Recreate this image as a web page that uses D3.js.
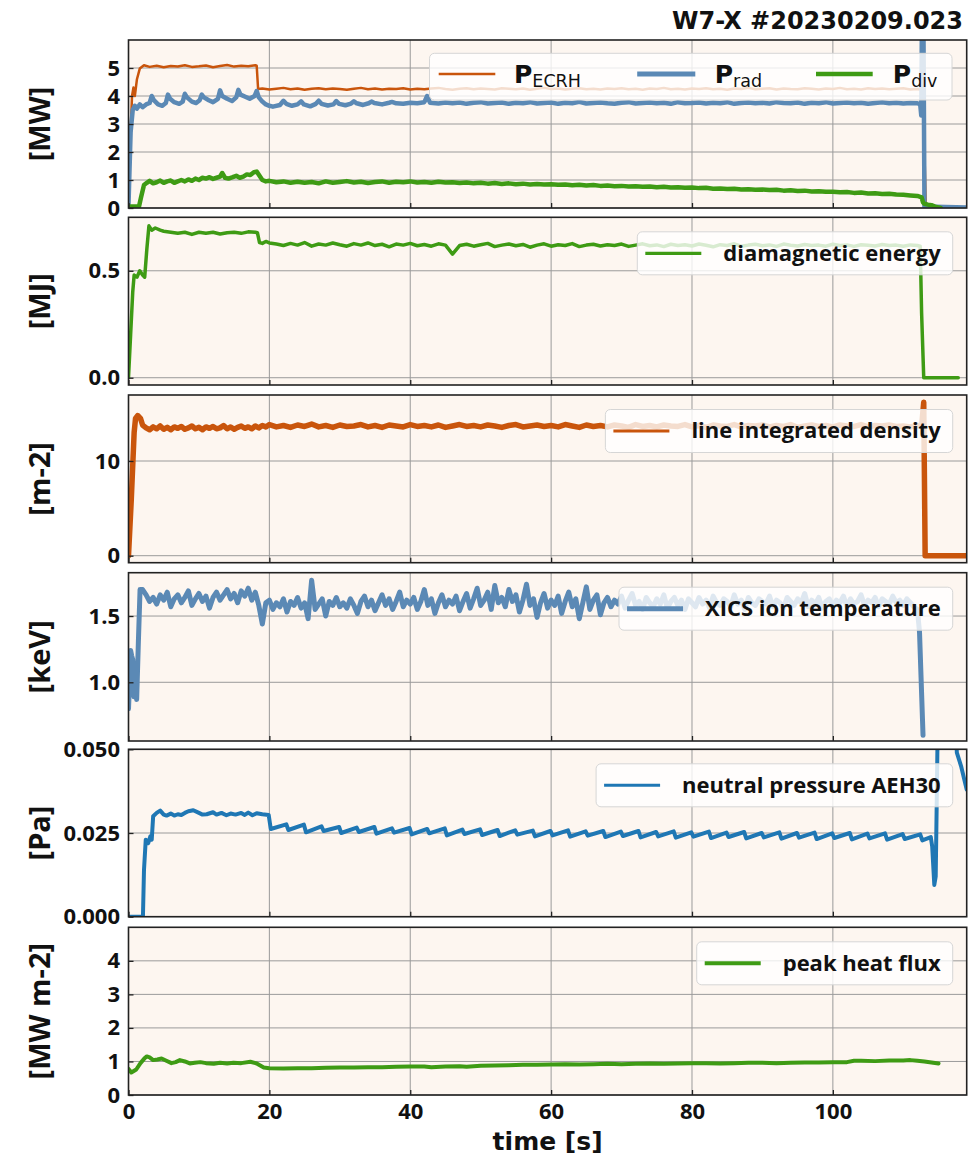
<!DOCTYPE html>
<html>
<head>
<meta charset="utf-8">
<script src="https://cdn.jsdelivr.net/npm/d3@7/dist/d3.min.js"></script>
<style>
html,body{margin:0;padding:0;background:#fff;}
svg text{font-family:"Open Sans",sans-serif;font-weight:700;fill:#111;}
</style>
</head>
<body>
<svg id="chart" width="979" height="1156"></svg>
<script>
// ---------------- DATA ----------------
const title = "W7-X #20230209.023";
const xDomain = [0, 119];
const xTickVals = [0, 20, 40, 60, 80, 100];
const xTickLabels = ["0", "20", "40", "60", "80", "100"];
const xLabel = "time [s]";

const yTicks1 = [0, 1, 2, 3, 4, 5];           const yLabels1 = ["0","1","2","3","4","5"];
const yTicks2 = [0, 0.5];                     const yLabels2 = ["0.0","0.5"];
const yTicks3 = [0, 10];                      const yLabels3 = ["0","10"];
const yTicks4 = [1.0, 1.5];                   const yLabels4 = ["1.0","1.5"];
const yTicks5 = [0, 0.025, 0.05];             const yLabels5 = ["0.000","0.025","0.050"];
const yTicks6 = [0, 1, 2, 3, 4];              const yLabels6 = ["0","1","2","3","4"];

const unitLabels = ["[MW]", "[MJ]", "[m-2]", "[keV]", "[Pa]", "[MW m-2]"];
const legendNames = ["diamagnetic energy", "line integrated density", "XICS ion temperature", "neutral pressure AEH30", "peak heat flux"];

// shared 1-s time grid
const tSec = [20,21,22,23,24,25,26,27,28,29,30,31,32,33,34,35,36,37,38,39,40,41,42,43,44,45,46,47,48,49,50,51,52,53,54,55,56,57,58,59,60,61,62,63,64,65,66,67,68,69,70,71,72,73,74,75,76,77,78,79,80,81,82,83,84,85,86,87,88,89,90,91,92,93,94,95,96,97,98,99,100,101,102,103,104,105,106,107,108,109,110,111,112];
// shared 0.5-s time grid
const tHalf = [2,2.5,3,3.5,4,4.5,5,5.5,6,6.5,7,7.5,8,8.5,9,9.5,10,10.5,11,11.5,
12,12.5,13,13.5,14,14.5,15,15.5,16,16.5,17,17.5,18,18.5,19,19.5,20,20.5,21,21.5,
22,22.5,23,23.5,24,24.5,25,25.5,26,26.5,27,27.5,28,28.5,29,29.5,30,30.5,31,31.5,
32,32.5,33,33.5,34,34.5,35,35.5,36,36.5,37,37.5,38,38.5,39,39.5,40,40.5,41,41.5,
42,42.5,43,43.5,44,44.5,45,45.5,46,46.5,47,47.5,48,48.5,49,49.5,50,50.5,51,51.5,
52,52.5,53,53.5,54,54.5,55,55.5,56,56.5,57,57.5,58,58.5,59,59.5,60,60.5,61,61.5,
62,62.5,63,63.5,64,64.5,65,65.5,66,66.5,67,67.5,68,68.5,69,69.5,70,70.5,71,71.5,
72,72.5,73,73.5,74,74.5,75,75.5,76,76.5,77,77.5,78,78.5,79,79.5,80,80.5,81,81.5,
82,82.5,83,83.5,84,84.5,85,85.5,86,86.5,87,87.5,88,88.5,89,89.5,90,90.5,91,91.5,
92,92.5,93,93.5,94,94.5,95,95.5,96,96.5,97,97.5,98,98.5,99,99.5,100,100.5,101,101.5,
102,102.5,103,103.5,104,104.5,105,105.5,106,106.5,107,107.5,108,108.5,109,109.5,110,110.5,111,111.5,
112];

// P_ECRH [MW]
const ecrhRampT = [0,0.2,0.5,0.7,0.9,1.2,1.6,2.2,3,4,5,6,7,8,9,10,11,12,13,14,15,16,17,18,18.2,18.4,19];
const ecrhRampV = [0,2.0,4.0,4.3,4.0,4.6,4.98,5.1,5.04,5.08,5.03,5.07,5.05,5.1,5.04,5.06,5.09,5.03,5.07,5.11,5.05,5.08,5.06,5.1,5.08,4.25,4.27];
const ecrhFlatV = [4.23,4.26,4.29,4.24,4.27,4.22,4.26,4.28,4.24,
4.27,4.25,4.22,4.26,4.29,4.24,4.27,4.23,4.26,4.25,
4.28,4.23,4.26,4.24,4.27,4.29,4.25,4.22,4.26,4.28,
4.24,4.27,4.25,4.23,4.28,4.26,4.24,4.27,4.22,4.26,
4.29,4.25,4.27,4.23,4.26,4.28,4.24,4.26,4.23,4.27,
4.25,4.28,4.24,4.26,4.22,4.27,4.25,4.29,4.24,4.26,
4.23,4.27,4.25,4.28,4.24,4.26,4.22,4.27,4.25,4.29,
4.24,4.26,4.28,4.23,4.27,4.25,4.24,4.28,4.26,4.23,
4.27,4.25,4.29,4.24,4.26,4.23,4.28,4.25,4.27,4.24,
4.26,4.28,4.23,4.25];
const ecrhEndT = [112.8,113.0,113.2,116];
const ecrhEndV = [4.2,2.0,0,0];

// P_rad [MW]
const radRampT = [0,0.3,0.6,0.9,1.2,1.6,2.0,2.5,3.0,3.3,3.6,4.2,4.8,5.3,5.6,5.9,6.5,7.2,7.7,8.0,8.3,9.0,9.6,10.1,10.4,10.7,11.4,12.0,12.7,13.0,13.3,14.0,14.7,15.3,15.6,15.9,16.5,17.2,17.9,18.2,18.5,19.0,19.5,20.0,20.5,21.5,22.0,22.4,23.2,24.0,24.5,24.9,25.8,26.6,27.0,27.4,28.3,29.1,29.5,29.9,30.8,31.6,32.0,32.4,33.3,34.1,34.5,34.9,36,37,37.4,38,39,40,41,42,42.4,42.8,44,45];
const radRampV = [0.1,2.7,3.5,3.65,3.55,3.7,3.6,3.7,3.75,4.0,3.85,3.7,3.65,3.75,4.05,3.9,3.78,3.72,3.8,4.08,3.95,3.8,3.75,3.85,4.05,3.95,3.85,3.78,3.9,4.2,4.0,3.9,3.82,3.95,4.22,4.05,3.98,3.9,4.0,4.18,3.95,3.8,3.7,3.65,3.62,3.68,3.83,3.72,3.65,3.7,3.81,3.7,3.63,3.72,3.83,3.72,3.66,3.7,3.82,3.72,3.67,3.73,3.81,3.74,3.68,3.74,3.8,3.75,3.7,3.76,3.79,3.74,3.72,3.76,3.74,3.78,4.0,3.76,3.73,3.77];
const radFlatV = [3.74,3.77,3.72,3.76,3.78,3.73,3.75,3.77,3.72,3.76,
3.74,3.78,3.73,3.75,3.77,3.72,3.76,3.74,3.79,3.73,
3.75,3.77,3.74,3.72,3.76,3.78,3.73,3.75,3.77,3.74,
3.76,3.72,3.78,3.74,3.75,3.77,3.73,3.76,3.74,3.78,
3.72,3.75,3.77,3.74,3.76,3.73,3.78,3.75,3.74,3.77,
3.72,3.76,3.74,3.78,3.73,3.75,3.77,3.74,3.76,3.72,
3.75,3.78,3.74,3.76,3.73,3.75,3.74];
const radEndT = [112.4,112.55,112.65,112.85,113.0,119];
const radEndV = [3.7,3.3,7,7,0.05,0.02];

// P_div [MW]
const divRampT = [0,1.5,1.8,2.2,2.6,3.0,3.5,4.0,4.5,5.0,5.5,6.0,6.5,7.0,7.5,8.0,8.5,9.0,9.5,10.0,10.5,11.0,11.5,12.0,12.5,13.0,13.3,13.7,14.2,14.8,15.3,15.8,16.3,16.8,17.3,17.8,18.2,18.6,19.0,19.5];
const divRampV = [0.05,0.06,0.4,0.82,0.9,0.97,0.88,0.92,0.98,0.9,0.95,0.98,0.9,0.95,1.0,0.95,1.02,0.97,1.05,1.0,1.08,1.05,1.1,1.04,1.08,1.12,1.25,1.08,1.05,1.1,1.15,1.08,1.12,1.2,1.18,1.28,1.3,1.15,1.0,0.95];
const divFlatV = [0.97,0.92,0.95,0.9,0.94,0.9,0.93,0.88,0.95,0.9,
0.93,0.96,0.91,0.94,0.89,0.93,0.95,0.9,0.94,0.92,
0.95,0.91,0.93,0.9,0.94,0.91,0.92,0.89,0.91,0.88,
0.9,0.87,0.89,0.86,0.88,0.85,0.87,0.84,0.86,0.84,
0.85,0.83,0.84,0.81,0.83,0.8,0.82,0.79,0.8,0.78,
0.79,0.77,0.78,0.76,0.77,0.74,0.76,0.73,0.74,0.72,
0.73,0.71,0.72,0.69,0.7,0.68,0.69,0.66,0.67,0.65,
0.66,0.64,0.65,0.62,0.63,0.61,0.62,0.59,0.6,0.58,
0.58,0.56,0.57,0.54,0.55,0.52,0.53,0.5,0.51,0.48,
0.47,0.45,0.43];
const divEndT = [112.6,112.8,113.0,113.5,114.0,114.5,115.0,115.3];
const divEndV = [0.38,0.2,0.15,0.12,0.1,0.05,0.02,0.0];

// diamagnetic energy [MJ]
const wRampT = [0,0.3,0.6,0.8,1.2,1.6,2.0,2.3,2.6,2.9,3.3,3.8,4.5,5,6,7,8,9,10,11,12,13,14,15,16,17,18,18.3,18.6,19,19.5];
const wRampV = [0,0.2,0.4,0.48,0.47,0.5,0.48,0.47,0.6,0.71,0.69,0.70,0.69,0.685,0.68,0.675,0.68,0.67,0.68,0.675,0.68,0.672,0.678,0.68,0.675,0.682,0.68,0.678,0.632,0.628,0.637];
const wFlatV = [0.63,0.625,0.618,0.628,0.62,0.632,0.615,0.625,0.62,0.63,
0.622,0.615,0.627,0.62,0.63,0.618,0.624,0.612,0.625,0.62,
0.628,0.617,0.623,0.615,0.626,0.62,0.578,0.618,0.624,0.615,
0.622,0.628,0.613,0.62,0.625,0.617,0.623,0.61,0.62,0.626,
0.615,0.622,0.618,0.627,0.613,0.62,0.624,0.616,0.622,0.618,
0.625,0.614,0.62,0.626,0.617,0.621,0.613,0.624,0.618,0.622,
0.616,0.625,0.619,0.612,0.622,0.618,0.626,0.615,0.62,0.624,
0.617,0.621,0.614,0.625,0.619,0.616,0.623,0.618,0.62,0.615,
0.624,0.618,0.621,0.614,0.622,0.619,0.616,0.623,0.618,0.62,
0.615,0.621,0.618];
const wEndT = [112.4,112.6,112.9,117.8];
const wEndV = [0.615,0.3,0,0];

// line integrated density [m-2]
const nRampT = [0,0.4,0.8,1.0,1.3,1.7,2.0,2.5,3.0,3.5,4,4.5,5,5.5,6,6.5,7,7.5,8,8.5,9,9.5,10,10.5,11,11.5,12,12.5,13,13.5,14,14.5,15,15.5,16,16.5,17,17.5,18,18.5,19,19.5];
const nRampV = [0,6,13,14.5,14.8,14.5,13.8,13.5,13.3,13.6,13.4,13.7,13.35,13.55,13.3,13.6,13.45,13.65,13.35,13.5,13.7,13.4,13.55,13.3,13.6,13.45,13.65,13.4,13.5,13.75,13.4,13.6,13.35,13.55,13.7,13.45,13.6,13.4,13.7,13.5,13.75,13.6];
const nFlatV = [13.85,13.6,13.75,13.55,13.8,13.65,13.9,13.6,13.75,13.55,
13.8,13.65,13.7,13.85,13.6,13.75,13.55,13.8,13.7,13.6,
13.85,13.65,13.75,13.6,13.8,13.55,13.7,13.85,13.65,13.75,
13.6,13.8,13.7,13.55,13.75,13.85,13.6,13.7,13.8,13.65,
13.75,13.6,13.85,13.7,13.55,13.8,13.65,13.75,13.6,13.8,
13.7,13.55,13.85,13.65,13.75,13.6,13.8,13.7,13.65,13.85,
13.6,13.75,13.55,13.8,13.7,13.65,13.85,13.6,13.75,13.7,
13.8,13.6,13.75,13.65,13.85,13.55,13.7,13.8,13.65,13.75,
13.6,13.8,13.7,13.65,13.85,13.6,13.75,13.7,13.8,13.65,
13.7,13.6,13.75];
const nEndT = [112.6,112.9,113.1,119];
const nEndV = [13.7,16.2,0,0];

// XICS ion temperature [keV]
const tiRampT = [0,0.15,0.3,0.45,0.6,0.78,0.97,1.16,1.4,1.64];
const tiRampV = [0.8,1.0,1.24,1.2,1.17,0.89,1.09,0.87,1.3,1.7];
const tiHalfV = [1.70,1.66,1.61,1.64,1.59,1.66,1.62,1.68,1.57,1.63,1.66,1.60,1.64,1.69,1.58,1.63,1.67,1.61,1.65,1.56,
1.64,1.68,1.62,1.66,1.70,1.63,1.67,1.60,1.69,1.65,1.71,1.62,1.68,
1.58,1.44,1.60,
1.62,1.55,1.60,1.57,1.63,1.53,1.61,1.58,1.64,1.56,1.60,1.48,1.77,1.55,1.59,1.63,1.50,1.61,1.58,1.64,1.57,
1.60,1.56,1.63,1.58,1.52,1.61,1.65,1.57,1.62,1.54,1.60,1.66,1.58,1.63,1.55,1.61,1.68,1.57,1.62,1.59,
1.64,1.55,1.61,1.70,1.58,1.63,1.52,1.60,1.66,1.57,1.62,1.59,1.65,1.54,1.61,1.67,1.56,1.63,1.71,1.58,
1.62,1.68,1.55,1.73,1.60,1.64,1.57,1.70,1.61,1.66,1.53,1.62,1.74,1.58,1.63,1.49,1.60,1.67,1.56,1.62,
1.58,1.65,1.52,1.61,1.68,1.57,1.63,1.48,1.60,1.72,1.55,1.62,1.66,1.51,1.60,1.64,1.57,1.62,1.59,1.65,
1.56,1.62,1.67,1.58,1.61,1.55,1.64,1.60,1.57,1.63,1.59,1.66,1.56,1.61,1.64,1.58,1.62,1.55,1.63,1.60,
1.57,1.64,1.59,1.62,1.56,1.65,1.60,1.58,1.63,1.61,1.57,1.66,1.59,1.62,1.55,1.64,1.60,1.58,1.63,1.61,
1.59,1.65,1.57,1.62,1.60,1.56,1.64,1.61,1.58,1.63,1.60,1.67,1.57,1.62,1.59,1.64,1.56,1.61,1.63,1.58,
1.62,1.60,1.65,1.57,1.63,1.59,1.61,1.66,1.58,1.62,1.60,1.64,1.57,1.63,1.61,1.59,1.65,1.60,1.62,1.58,
1.63,1.60,1.57,1.55];
const tiEndT = [112.3,112.8];
const tiEndV = [1.38,0.6];

// neutral pressure AEH30 [Pa]
const pnRampT = [0,2.05,2.2,2.45,2.8,3.1,3.3,3.5,4.0,4.5,5.0,5.4,6,6.5,7,7.5,8,8.5,9.2,10,10.5,11.1,12,12.5,13.2,13.9,14.5,15.2,16,16.5,17,17.6,18.2,19.0,19.9];
const pnRampV = [0,0,0.014,0.023,0.022,0.024,0.023,0.030,0.031,0.0317,0.0305,0.0302,0.0308,0.0302,0.0306,0.0304,0.031,0.0315,0.0318,0.031,0.0305,0.0306,0.0312,0.0305,0.031,0.0303,0.0308,0.0305,0.031,0.0304,0.0311,0.0303,0.0309,0.0306,0.0304];
const pnSawT = [20.2,22.4,22.7,24.9,25.2,27.4,27.7,29.9,30.2,32.4,32.7,34.9,35.2,37.4,37.7,39.9,40.2,42.4,42.7,44.9,45.2,47.4,47.7,49.9,50.2,52.4,52.7,54.9,55.2,57.4,57.7,59.9,60.2,62.4,62.7,64.9,65.2,67.4,67.7,69.9,70.2,72.4,72.7,74.9,75.2,77.4,77.7,79.9,80.2,82.4,82.7,84.9,85.2,87.4,87.7,89.9,90.2,92.4,92.7,94.9,95.2,97.4,97.7,99.9,100.2,102.4,102.7,104.9,105.2,107.4,107.7,109.9,110.2,112.4,112.7,113.9];
const pnSawV = [0.0262,0.0276,0.0259,0.0275,0.0252,0.0270,0.0256,0.0268,0.0250,0.0266,0.0253,0.0268,0.0248,0.0264,0.0251,0.0265,0.0246,0.0262,0.0249,0.0264,0.0243,0.0260,0.0247,0.0261,0.0244,0.0259,0.0241,0.0258,0.0245,0.0257,0.0240,0.0256,0.0243,0.0258,0.0239,0.0255,0.0242,0.0256,0.0238,0.0254,0.0241,0.0256,0.0237,0.0253,0.0240,0.0255,0.0236,0.0252,0.0239,0.0254,0.0235,0.0251,0.0238,0.0253,0.0234,0.0250,0.0237,0.0252,0.0233,0.0250,0.0236,0.0251,0.0232,0.0249,0.0235,0.0250,0.0231,0.0248,0.0234,0.0249,0.0230,0.0247,0.0232,0.0246,0.0228,0.0238];
const pnEndT = [114.1,114.4,114.6,114.75,114.9,117.4,117.6,118.2,119];
const pnEndV = [0.021,0.0095,0.012,0.035,0.06,0.06,0.049,0.045,0.038];

// peak heat flux [MW m-2]
const qT = [0,0.4,1.1,1.7,2.3,2.6,3.0,3.5,4.1,4.7,5.3,6.1,6.7,7.3,8.0,8.7,9.4,10.2,11.0,12.1,13.0,14.0,14.9,16.0,17.3,18.2,19.2,20,22,24,26,28,30,32,34,36,38,40,42,43,45,47,48,50,52,54,56,58,60,62,64,66,68,70,72,74,76,78,80,82,84,86,88,90,92,94,96,98,100,102,103,104,106,108,110,111,112,113,114,115];
const qV = [0.78,0.67,0.76,0.95,1.1,1.15,1.12,1.04,1.06,1.09,1.03,0.95,0.98,1.04,1.0,0.94,0.96,0.98,0.95,0.93,0.96,0.94,0.96,0.95,0.99,0.94,0.82,0.8,0.79,0.8,0.8,0.81,0.82,0.82,0.83,0.83,0.84,0.85,0.85,0.83,0.85,0.86,0.84,0.87,0.88,0.89,0.9,0.9,0.91,0.92,0.91,0.92,0.93,0.92,0.93,0.94,0.93,0.94,0.95,0.95,0.94,0.95,0.96,0.96,0.95,0.96,0.97,0.97,0.98,0.98,1.02,1.02,1.01,1.03,1.03,1.04,1.02,1.0,0.97,0.94];

// ---------------- DRAWING ----------------
const X0 = 128.5, X1 = 966.7;
const x = d3.scaleLinear().domain(xDomain).range([X0, X1]);
const COL = {orange:"#c9550c", steel:"#5b89b5", green:"#3e9b14", blue:"#1f77b4"};
const join = (...a) => [].concat(...a);
const pairs = (t, v) => t.map((d, i) => [d, v[i]]);

const panels = [
  {top:40, bottom:208, domain:[0,6], tv:yTicks1, tl:yLabels1, label:unitLabels[0],
   series:[
     {t:join(ecrhRampT,tSec,ecrhEndT), v:join(ecrhRampV,ecrhFlatV,ecrhEndV), c:COL.orange, w:2.5},
     {t:join(radRampT,tSec.slice(26),radEndT), v:join(radRampV,radFlatV,radEndV), c:COL.steel, w:4.5},
     {t:join(divRampT,tSec,divEndT), v:join(divRampV,divFlatV,divEndV), c:COL.green, w:4.5}]},
  {top:217.3, bottom:385, domain:[-0.034,0.75], tv:yTicks2, tl:yLabels2, label:unitLabels[1],
   series:[{t:join(wRampT,tSec,wEndT), v:join(wRampV,wFlatV,wEndV), c:COL.green, w:3.5}],
   legend:{text:legendNames[0], c:COL.green, w:3.2}},
  {top:395, bottom:562.7, domain:[-0.74,16.97], tv:yTicks3, tl:yLabels3, label:unitLabels[2],
   series:[{t:join(nRampT,tSec,nEndT), v:join(nRampV,nFlatV,nEndV), c:COL.orange, w:5.5}],
   legend:{text:legendNames[1], c:COL.orange, w:3}},
  {top:572.7, bottom:741, domain:[0.557,1.827], tv:yTicks4, tl:yLabels4, label:unitLabels[3],
   series:[{t:join(tiRampT,tHalf,tiEndT), v:join(tiRampV,tiHalfV,tiEndV), c:COL.steel, w:5}],
   legend:{text:legendNames[2], c:COL.steel, w:5}},
  {top:749.3, bottom:916.7, domain:[0,0.05], tv:yTicks5, tl:yLabels5, label:unitLabels[4],
   series:[{t:join(pnRampT,pnSawT,pnEndT), v:join(pnRampV,pnSawV,pnEndV), c:COL.blue, w:4}],
   legend:{text:legendNames[3], c:COL.blue, w:3}},
  {top:927.3, bottom:1095, domain:[0,5], tv:yTicks6, tl:yLabels6, label:unitLabels[5],
   series:[{t:qT, v:qV, c:COL.green, w:4}],
   legend:{text:legendNames[4], c:COL.green, w:4}}
];

const svg = d3.select("#chart");
const defs = svg.append("defs");

svg.append("text").attr("x", 963).attr("y", 29).attr("text-anchor", "end")
  .style("font-family", "'DejaVu Sans',sans-serif").style("font-size", "24px").text(title);

panels.forEach((p, pi) => {
  const y = d3.scaleLinear().domain(p.domain).range([p.bottom, p.top]);
  const g = svg.append("g");
  g.append("rect").attr("x", X0).attr("y", p.top).attr("width", X1 - X0).attr("height", p.bottom - p.top)
    .attr("fill", "#fdf6f0");
  // grid
  g.append("g").selectAll("line").data(xTickVals.filter(d => d > 0)).join("line")
    .attr("x1", d => x(d)).attr("x2", d => x(d)).attr("y1", p.top).attr("y2", p.bottom)
    .attr("stroke", "#9a9a9a").attr("stroke-width", 1);
  g.append("g").selectAll("line").data(p.tv).join("line")
    .attr("x1", X0).attr("x2", X1).attr("y1", d => y(d)).attr("y2", d => y(d))
    .attr("stroke", "#9a9a9a").attr("stroke-width", 1);
  // clip
  const cid = "clip" + pi;
  defs.append("clipPath").attr("id", cid).append("rect")
    .attr("x", X0).attr("y", p.top).attr("width", X1 - X0).attr("height", p.bottom - p.top);
  const line = d3.line().x(d => x(d[0])).y(d => y(d[1]));
  const lg = g.append("g").attr("clip-path", `url(#${cid})`);
  p.series.forEach(s => {
    lg.append("path").attr("d", line(pairs(s.t, s.v))).attr("fill", "none")
      .attr("stroke", s.c).attr("stroke-width", s.w)
      .attr("stroke-linejoin", "round").attr("stroke-linecap", "round");
  });
  // y axis
  const ya = d3.axisLeft(y).tickValues(p.tv).tickFormat((d, i) => p.tl[i])
    .tickSizeInner(-5).tickSizeOuter(0).tickPadding(8.5);
  const yg = g.append("g").attr("transform", `translate(${X0},0)`).call(ya);
  yg.select(".domain").remove();
  yg.selectAll("line").attr("stroke", "#222").attr("stroke-width", 1.3);
  yg.selectAll("text").style("font-size", "22px").style("font-family", "'Open Sans',sans-serif").attr("fill", "#111");
  // x axis
  const last = pi === panels.length - 1;
  const xa = d3.axisBottom(x).tickValues(xTickVals).tickFormat((d, i) => last ? xTickLabels[i] : "")
    .tickSizeInner(-5).tickSizeOuter(0).tickPadding(8.5);
  const xg = g.append("g").attr("transform", `translate(0,${p.bottom})`).call(xa);
  xg.select(".domain").remove();
  xg.selectAll("line").attr("stroke", "#222").attr("stroke-width", 1.3);
  xg.selectAll("text").style("font-size", "22px").style("font-family", "'Open Sans',sans-serif").attr("fill", "#111");
  // frame
  g.append("rect").attr("x", X0).attr("y", p.top).attr("width", X1 - X0).attr("height", p.bottom - p.top)
    .attr("fill", "none").attr("stroke", "#222").attr("stroke-width", 1.6);
  // y label
  g.append("text").attr("transform", `translate(41,${(p.top + p.bottom) / 2}) rotate(-90)`)
    .attr("text-anchor", "middle").attr("dy", "0.3em").style("font-size", "29px").text(p.label);
  // legend
  if (p.legend) {
    const top = p.top + 14.5, h = 43, cy = top + 21.5;
    const lgd = g.append("g");
    const box = lgd.append("rect");
    const ln = lgd.append("line");
    const txt = lgd.append("text").attr("y", cy).attr("dy", "0.33em").style("font-size", "22px").text(p.legend.text);
    const tw = txt.node().getComputedTextLength();
    const tx = 940.7 - tw;
    txt.attr("x", tx);
    box.attr("x", tx - 86).attr("y", top).attr("width", 952.7 - (tx - 86)).attr("height", h)
      .attr("rx", 5).attr("fill", "#ffffff").attr("fill-opacity", 0.8).attr("stroke", "#d6d6d6").attr("stroke-width", 1);
    ln.attr("x1", tx - 78).attr("x2", tx - 22).attr("y1", cy).attr("y2", cy)
      .attr("stroke", p.legend.c).attr("stroke-width", p.legend.w);
  }
});

// power legend (panel 1)
const pl = svg.append("g");
pl.append("rect").attr("x", 429.5).attr("y", 53.3).attr("width", 952 - 429.5).attr("height", 46.7)
  .attr("rx", 5).attr("fill", "#ffffff").attr("fill-opacity", 0.8).attr("stroke", "#d6d6d6").attr("stroke-width", 1);
const powerEntries = [
  {x1:438.7, x2:495.3, tx:514, sub:"ECRH", c:COL.orange, w:2.5},
  {x1:637.2, x2:695.3, tx:714.7, sub:"rad", c:COL.steel, w:5},
  {x1:816, x2:872.7, tx:892.8, sub:"div", c:COL.green, w:4.5}
];
powerEntries.forEach(e => {
  pl.append("line").attr("x1", e.x1).attr("x2", e.x2).attr("y1", 74).attr("y2", 74)
    .attr("stroke", e.c).attr("stroke-width", e.w);
  const t = pl.append("text").attr("x", e.tx).attr("y", 83.3)
    .style("font-family", "'DejaVu Sans',sans-serif").style("font-size", "25px");
  t.append("tspan").text("P");
  t.append("tspan").attr("dy", 4).style("font-size", "17.5px").style("font-weight", "400").text(e.sub);
});

// x label
svg.append("text").attr("x", (X0 + X1) / 2).attr("y", 1150).attr("text-anchor", "middle")
  .style("font-family", "'DejaVu Sans',sans-serif").style("font-size", "25px").text(xLabel);
</script>
</body>
</html>
